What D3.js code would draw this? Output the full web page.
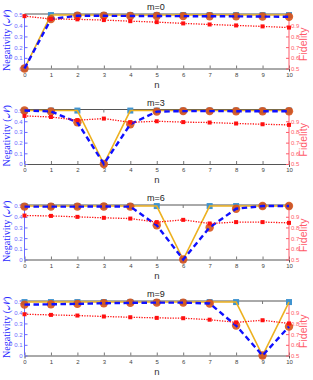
<!DOCTYPE html>
<html><head><meta charset="utf-8">
<script src="https://cdn.jsdelivr.net/npm/d3@7"></script>
<style>body{margin:0;background:#fff;}svg{display:block;}</style>
</head><body>
<div id="chart"></div>
<script>
const nValues = [0,1,2,3,4,5,6,7,8,9,10];
const mValues = [0,3,6,9];
const idealNeg = [
  [0,0.5,0.5,0.5,0.5,0.5,0.5,0.5,0.5,0.5,0.5],
  [0.5,0.5,0.5,0,0.5,0.5,0.5,0.5,0.5,0.5,0.5],
  [0.5,0.5,0.5,0.5,0.5,0.5,0,0.5,0.5,0.5,0.5],
  [0.5,0.5,0.5,0.5,0.5,0.5,0.5,0.5,0.5,0,0.5]
];
const realNeg = [
  [0,0.462,0.494,0.493,0.492,0.491,0.49,0.489,0.488,0.486,0.484],
  [0.5,0.492,0.39,0,0.372,0.49,0.495,0.495,0.494,0.494,0.493],
  [0.495,0.495,0.495,0.496,0.495,0.32,0,0.30,0.475,0.5,0.5],
  [0.476,0.479,0.483,0.489,0.493,0.495,0.495,0.487,0.28,0,0.27]
];
const fidelity = [
  [0.99,0.963,0.96,0.953,0.943,0.934,0.922,0.912,0.903,0.894,0.883],
  [0.95,0.94,0.91,0.925,0.89,0.9,0.892,0.888,0.879,0.872,0.866],
  [0.911,0.908,0.899,0.89,0.883,0.85,0.871,0.837,0.85,0.85,0.843],
  [0.886,0.88,0.874,0.865,0.858,0.852,0.849,0.835,0.81,0.83,0.8]
];
const negTicks = [0,0.1,0.2,0.3,0.4,0.5];
const fidTicks = [0.5,0.6,0.7,0.8,0.9];

const W = 313, H = 380;
const svg = d3.select("#chart").append("svg").attr("width", W).attr("height", H);
const panelTops = [14, 109.5, 205, 301];
const ph = 54.5;
const x = d3.scaleLinear().domain([0,10]).range([24.5, 289]);

const cSq = "#3f93cf", cGold = "#EDB120", cCirc = "#D95319", cBlue = "#1010ff", cRed = "#ff1010";
const cLeft = "#6b6bff", cRight = "#ff5a6a";

mValues.forEach((m, i) => {
  const top = panelTops[i];
  const yN = d3.scaleLinear().domain([0,0.51]).range([top+ph, top]);
  const yF = d3.scaleLinear().domain([0.5,1.01]).range([top+ph, top]);
  const g = svg.append("g");

  g.append("line").attr("x1", x(0)).attr("x2", x(10)).attr("y1", top).attr("y2", top).attr("stroke", "#555").attr("stroke-width", 1);
  const bx = d3.axisBottom(x).tickValues(nValues).tickSize(3).tickFormat(d3.format("d"));
  const gb = g.append("g").attr("transform", `translate(0,${top+ph})`).call(bx);
  gb.select(".domain").attr("stroke", "#555");
  gb.selectAll(".tick line").attr("y2", -3).attr("stroke", "#777");
  gb.selectAll(".tick text").attr("y", 4).attr("font-size", 6).attr("fill", "#444").attr("font-family", "Liberation Sans, Arial");
  g.selectAll(".ttick").data(nValues).enter().append("line")
    .attr("x1", d=>x(d)).attr("x2", d=>x(d)).attr("y1", top).attr("y2", top+3).attr("stroke", "#777");

  const la = d3.axisLeft(yN).tickValues(negTicks).tickSize(3).tickFormat(d => d===0 ? "0" : d3.format(".1f")(d));
  const gl = g.append("g").attr("transform", `translate(${x(0)},0)`).call(la);
  gl.select(".domain").attr("stroke", cLeft).attr("d", `M0,${top+ph}V${top}`);
  gl.selectAll(".tick line").attr("x2", 3).attr("stroke", cLeft);
  gl.selectAll(".tick text").attr("x", -2).attr("font-size", 6).attr("fill", cLeft).attr("font-family", "Liberation Sans, Arial");

  const ra = d3.axisRight(yF).tickValues(fidTicks).tickSize(3).tickFormat(d3.format(".1f"));
  const gr = g.append("g").attr("transform", `translate(${x(10)},0)`).call(ra);
  gr.select(".domain").attr("stroke", cRight).attr("d", `M0,${top+ph}V${top}`);
  gr.selectAll(".tick line").attr("x2", -3).attr("stroke", cRight);
  gr.selectAll(".tick text").attr("x", 2).attr("font-size", 6).attr("fill", cRight).attr("font-family", "Liberation Sans, Arial");

  g.append("text").attr("x", 156).attr("y", top-4).attr("text-anchor", "middle").attr("font-size", 9)
    .attr("fill", "#222").attr("font-family", "Liberation Sans, Arial").text("m=" + m);
  g.append("text").attr("x", 157).attr("y", top+ph+19).attr("text-anchor", "middle").attr("font-size", 9.5)
    .attr("fill", "#333").attr("font-family", "Liberation Sans, Arial").text("n");
  g.append("text").attr("transform", `translate(10,${top+ph/2-1}) rotate(-90)`).attr("text-anchor", "middle")
    .attr("font-size", 10).attr("fill", "#2a2aff").attr("font-family", "Liberation Serif, Times New Roman, serif")
    .text("Negativity (\u{1D4A9})");
  g.append("text").attr("transform", `translate(307,${top+ph/2+3}) rotate(-90)`).attr("text-anchor", "middle")
    .attr("font-size", 10.5).attr("fill", cRight).attr("font-family", "Liberation Sans, Arial")
    .text("Fidelity");

  const lnN = d3.line().x((d,j)=>x(nValues[j])).y(d=>yN(d));
  g.selectAll(".sq").data(idealNeg[i]).enter().append("rect")
    .attr("x", (d,j)=>x(nValues[j])-3).attr("y", d=>yN(d)-3).attr("width", 6).attr("height", 6).attr("fill", cSq);
  g.append("path").datum(idealNeg[i]).attr("d", lnN).attr("fill","none").attr("stroke", cGold).attr("stroke-width", 1.6);

  g.selectAll(".ci").data(realNeg[i]).enter().append("circle")
    .attr("cx", (d,j)=>x(nValues[j])).attr("cy", d=>yN(d)).attr("r", 4.2).attr("fill", cCirc).attr("opacity", 0.9);
  g.append("path").datum(realNeg[i]).attr("d", lnN).attr("fill","none").attr("stroke", cBlue)
    .attr("stroke-width", 2.4).attr("stroke-dasharray", "5.5,3.5");

  const lnF = d3.line().x((d,j)=>x(nValues[j])).y(d=>yF(d));
  g.append("path").datum(fidelity[i]).attr("d", lnF).attr("fill","none").attr("stroke", cRed)
    .attr("stroke-width", 1.3).attr("stroke-dasharray", "1.3,1.3");
  g.selectAll(".fq").data(fidelity[i]).enter().append("rect")
    .attr("x", (d,j)=>x(nValues[j])-2).attr("y", d=>yF(d)-2).attr("width", 4).attr("height", 4).attr("fill", cRed);
});
</script>
</body></html>
